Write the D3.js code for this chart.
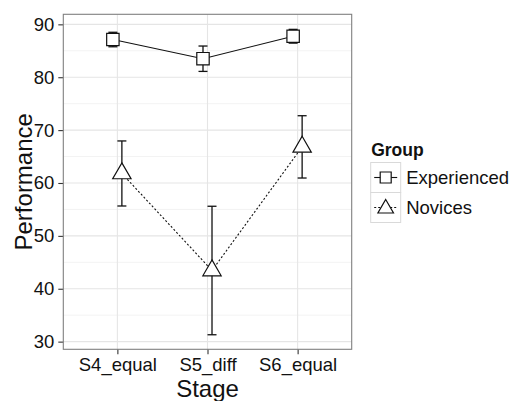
<!DOCTYPE html>
<html>
<head>
<meta charset="utf-8">
<script src="https://cdn.jsdelivr.net/npm/d3@7"></script>
<style>
  body { margin: 0; background: #fff; }
  text { font-family: "Liberation Sans", Arial, sans-serif; fill: #111; }
</style>
</head>
<body>
<div id="chart"></div>
<script>
// data
var stages = ["S4_equal", "S5_diff", "S6_equal"];
var groups = ["Experienced", "Novices"];
var experiencedMean = [87.13, 83.5, 87.75];
var experiencedErr = [1.37, 2.4, 1.3];
var novicesMean = [61.8, 43.45, 66.83];
var novicesErr = [6.15, 12.15, 5.89];
var yTicks = [30, 40, 50, 60, 70, 80, 90];
var yMinor = [35, 45, 55, 65, 75, 85];

function init(){
    var w = 512;
    var h = 401;
    var left = 63.3, right = 351.7, top = 14.3, bottom = 349.3;

    var xScale = d3.scalePoint()
        .domain(stages)
        .range([left, right])
        .padding(0.6);

    var yScale = d3.scaleLinear()
        .domain([28.55, 91.9])
        .range([bottom, top]);

    // dodge in step units
    var dodge = {Experienced: -0.05, Novices: 0.05};

    var series = groups.map(function(g){
        var means = g == "Experienced" ? experiencedMean : novicesMean;
        var errs = g == "Experienced" ? experiencedErr : novicesErr;
        return {
            group: g,
            values: stages.map(function(s, i){
                return {stage: s, mean: means[i], err: errs[i]};
            })
        };
    });

    var svg = d3.select("#chart")
        .append("svg")
        .attr("width", w)
        .attr("height", h);

    // panel grid
    svg.append("rect")
        .attr("x", left).attr("y", top)
        .attr("width", right - left).attr("height", bottom - top)
        .attr("fill", "#fff");

    svg.selectAll("line.minor")
        .data(yMinor)
        .enter()
        .append("line")
        .attr("class", "minor")
        .attr("x1", left).attr("x2", right)
        .attr("y1", function(d){ return yScale(d); })
        .attr("y2", function(d){ return yScale(d); })
        .attr("stroke", "#f3f3f3")
        .attr("stroke-width", 1);

    svg.selectAll("line.ymajor")
        .data(yTicks)
        .enter()
        .append("line")
        .attr("class", "ymajor")
        .attr("x1", left).attr("x2", right)
        .attr("y1", function(d){ return yScale(d); })
        .attr("y2", function(d){ return yScale(d); })
        .attr("stroke", "#e5e5e5")
        .attr("stroke-width", 1.1);

    svg.selectAll("line.xmajor")
        .data(stages)
        .enter()
        .append("line")
        .attr("class", "xmajor")
        .attr("y1", top).attr("y2", bottom)
        .attr("x1", function(d){ return xScale(d); })
        .attr("x2", function(d){ return xScale(d); })
        .attr("stroke", "#e5e5e5")
        .attr("stroke-width", 1.1);

    // axes
    var yAxis = d3.axisLeft(yScale)
        .tickValues(yTicks)
        .tickSize(5)
        .tickPadding(4);
    var gy = svg.append("g")
        .attr("transform", "translate(" + left + ",0)")
        .call(yAxis);
    gy.select(".domain").remove();
    gy.selectAll(".tick line").attr("stroke", "#333").attr("stroke-width", 1.1);
    gy.selectAll(".tick text")
        .attr("font-size", 18.5)
        .attr("font-family", "Liberation Sans, Arial, sans-serif")
        .attr("fill", "#111");

    var xAxis = d3.axisBottom(xScale)
        .tickSize(5)
        .tickPadding(4);
    var gx = svg.append("g")
        .attr("transform", "translate(0," + bottom + ")")
        .call(xAxis);
    gx.select(".domain").remove();
    gx.selectAll(".tick line").attr("stroke", "#333").attr("stroke-width", 1.1);
    gx.selectAll(".tick text")
        .attr("font-size", 18.5)
        .attr("font-family", "Liberation Sans, Arial, sans-serif")
        .attr("fill", "#111");

    svg.append("rect")
        .attr("x", left).attr("y", top)
        .attr("width", right - left).attr("height", bottom - top)
        .attr("fill", "none")
        .attr("stroke", "#7f7f7f")
        .attr("stroke-width", 1.1);

    // titles
    svg.append("text")
        .attr("x", (left + right) / 2)
        .attr("y", 397)
        .attr("text-anchor", "middle")
        .attr("font-size", 24)
        .text("Stage");

    svg.append("text")
        .attr("transform", "translate(32," + ((top + bottom) / 2) + ") rotate(-90)")
        .attr("text-anchor", "middle")
        .attr("font-size", 24)
        .text("Performance");

    var xPos = function(g, s){
        return xScale(s) + dodge[g] * xScale.step();
    };

    var line = function(g){
        return d3.line()
            .x(function(d){ return xPos(g, d.stage); })
            .y(function(d){ return yScale(d.mean); });
    };

    // lines
    svg.selectAll("path.series")
        .data(series)
        .enter()
        .append("path")
        .attr("class", "series")
        .attr("d", function(d){ return line(d.group)(d.values); })
        .attr("fill", "none")
        .attr("stroke", "#111")
        .attr("stroke-width", 1.1)
        .attr("stroke-dasharray", function(d){
            return d.group == "Novices" ? "2,2" : null;
        });

    // error bars
    var cap = 4.5;
    series.forEach(function(sr){
        var g = svg.append("g");
        var bars = g.selectAll("g")
            .data(sr.values)
            .enter()
            .append("g");
        bars.append("line")
            .attr("x1", function(d){ return xPos(sr.group, d.stage); })
            .attr("x2", function(d){ return xPos(sr.group, d.stage); })
            .attr("y1", function(d){ return yScale(d.mean + d.err); })
            .attr("y2", function(d){ return yScale(d.mean - d.err); });
        bars.append("line")
            .attr("x1", function(d){ return xPos(sr.group, d.stage) - cap; })
            .attr("x2", function(d){ return xPos(sr.group, d.stage) + cap; })
            .attr("y1", function(d){ return yScale(d.mean + d.err); })
            .attr("y2", function(d){ return yScale(d.mean + d.err); });
        bars.append("line")
            .attr("x1", function(d){ return xPos(sr.group, d.stage) - cap; })
            .attr("x2", function(d){ return xPos(sr.group, d.stage) + cap; })
            .attr("y1", function(d){ return yScale(d.mean - d.err); })
            .attr("y2", function(d){ return yScale(d.mean - d.err); });
        bars.selectAll("line")
            .attr("stroke", "#111")
            .attr("stroke-width", 1.3);
    });

    // point shapes
    var square = function(x, y, s){
        return "M" + (x - s/2) + "," + (y - s/2) + "h" + s + "v" + s + "h" + (-s) + "Z";
    };
    var triangle = function(x, y, r){
        var hw = 0.866 * r;
        return "M" + x + "," + (y - r) + "L" + (x + hw) + "," + (y + r/2) + "L" + (x - hw) + "," + (y + r/2) + "Z";
    };

    series.forEach(function(sr){
        svg.selectAll(null)
            .data(sr.values)
            .enter()
            .append("path")
            .attr("d", function(d){
                var x = xPos(sr.group, d.stage), y = yScale(d.mean);
                return sr.group == "Experienced" ? square(x, y, 12.4) : triangle(x, y, 10.6);
            })
            .attr("fill", "#fff")
            .attr("stroke", "#111")
            .attr("stroke-width", 1.2);
    });

    // legend
    var lx = 370.7, ly = 162.5, key = 30;
    svg.append("text")
        .attr("x", lx + 0.5)
        .attr("y", 155.7)
        .attr("font-size", 17.5)
        .attr("font-weight", "bold")
        .text("Group");

    var items = svg.selectAll("g.legend")
        .data(groups)
        .enter()
        .append("g")
        .attr("class", "legend")
        .attr("transform", function(d, i){
            return "translate(" + lx + "," + (ly + i * key) + ")";
        });
    items.append("rect")
        .attr("width", key).attr("height", key)
        .attr("fill", "#fff")
        .attr("stroke", "#d9d9d9")
        .attr("stroke-width", 1);
    items.append("line")
        .attr("x1", 3.5).attr("x2", key - 3.5)
        .attr("y1", key / 2).attr("y2", key / 2)
        .attr("stroke", "#111")
        .attr("stroke-width", 1.1)
        .attr("stroke-dasharray", function(d){ return d == "Novices" ? "2,2" : null; });
    items.append("path")
        .attr("d", function(d){
            return d == "Experienced" ? square(key/2, key/2, 11) : triangle(key/2, key/2 + 1, 9);
        })
        .attr("fill", "#fff")
        .attr("stroke", "#111")
        .attr("stroke-width", 1.2);
    items.append("text")
        .attr("x", key + 5.5)
        .attr("y", key / 2 + 6.5)
        .attr("font-size", 18.5)
        .text(function(d){ return d; });
}
window.onload = init;
</script>
</body>
</html>
